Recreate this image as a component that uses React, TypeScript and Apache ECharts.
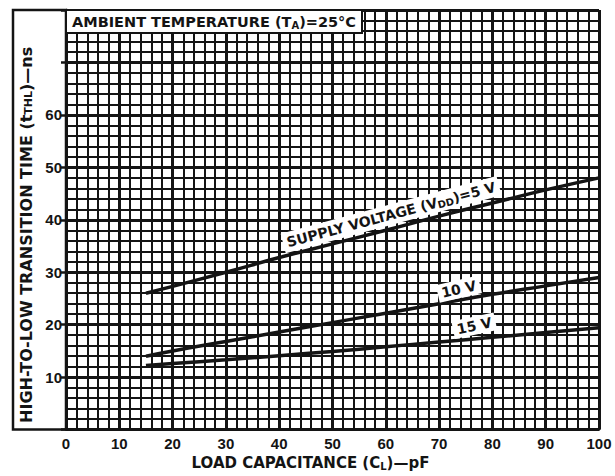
import React, { useEffect, useRef } from "react";
import * as echarts from "echarts";

const loadCapacitance = [15, 20, 30, 40, 50, 60, 70, 80, 90, 100];
const supply5V = [26, 27.3, 30, 32.8, 35.4, 38, 40.7, 43.2, 45.7, 48];
const supply10V = [14, 15, 16.8, 18.6, 20.4, 22.2, 24, 25.8, 27.4, 29];
const supply15V = [12.2, 12.6, 13.3, 14.1, 14.9, 15.8, 16.7, 17.6, 18.5, 19.4];
const yTickLabels = [10, 20, 30, 40, 50, 60];
const curveLabels = [
  { text: "SUPPLY VOLTAGE (V{sub|DD})=5 V", x: 61, y: 41, rot: 15 },
  { text: "10 V", x: 73.7, y: 26.8, rot: 13 },
  { text: "15 V", x: 76.6, y: 19.8, rot: 12 },
];

const INK = "#141414";
const FONT = "'Liberation Sans', 'DejaVu Sans', sans-serif";
const WIDE = "'DejaVu Sans', 'Liberation Sans', sans-serif";

export default function App() {
  const ref = useRef<HTMLDivElement>(null);
  useEffect(() => {
    document.body.style.margin = "0";
    const chart = echarts.init(ref.current!, null, { renderer: "svg" });
    const mk = (name: string, data: number[]) => ({
      name,
      type: "line",
      data: loadCapacitance.map((x, i) => [x, data[i]]),
      showSymbol: false,
      smooth: true,
      lineStyle: { color: INK, width: 3.5 },
      z: 5,
    });
    const axisCommon = {
      type: "value",
      interval: 10,
      min: 0,
      axisLine: { show: true, lineStyle: { color: INK, width: 2.5 } },
      minorTick: { show: false, splitNumber: 5 },
      splitLine: { show: true, lineStyle: { color: INK, width: 3 } },
      minorSplitLine: { show: true, lineStyle: { color: INK, width: 2 } },
    };
    chart.setOption({
      animation: false,
      backgroundColor: "#fff",
      grid: { left: 66, right: 16, top: 10, bottom: 37 },
      xAxis: {
        ...axisCommon,
        max: 100,
        axisTick: { show: false },
        axisLabel: {
          color: INK,
          fontFamily: FONT,
          fontWeight: "bold",
          fontSize: 15,
          margin: 6,
        },
        name: "LOAD CAPACITANCE (C{sub|L})—pF",
        nameLocation: "middle",
        nameGap: 21,
        nameTextStyle: {
          color: INK,
          fontFamily: WIDE,
          fontWeight: "bold",
          fontSize: 15,
          padding: [0, 44, 0, 0],
          rich: { sub: { fontSize: 10, fontWeight: "bold", fontFamily: WIDE, padding: [6, 0, 0, 0] } },
        },
      },
      yAxis: {
        ...axisCommon,
        max: 80,
        axisTick: { show: true, length: 5, lineStyle: { color: INK, width: 2.5 } },
        axisLabel: {
          color: INK,
          fontFamily: FONT,
          fontWeight: "bold",
          fontSize: 15,
          margin: 4,
          formatter: (v: number) => (yTickLabels.includes(v) ? String(v) : ""),
        },
        name: "HIGH-TO-LOW TRANSITION TIME (t{sub|THL})—ns",
        nameLocation: "middle",
        nameRotate: 90,
        nameGap: 29,
        nameTextStyle: {
          color: INK,
          fontFamily: WIDE,
          fontWeight: "bold",
          fontSize: 16,
          padding: [0, 30, 0, 0],
          rich: { sub: { fontSize: 11, fontWeight: "bold", fontFamily: WIDE, padding: [4, 0, 0, 0] } },
        },
      },
      series: [mk("5 V", supply5V), mk("10 V", supply10V), mk("15 V", supply15V)],
    });

    const labelGraphics = curveLabels.map((c) => {
      const [px, py] = chart.convertToPixel({ gridIndex: 0 }, [c.x, c.y]) as number[];
      return {
        type: "text",
        x: px,
        y: py,
        rotation: (c.rot * Math.PI) / 180,
        z: 20,
        style: {
          text: c.text,
          fill: INK,
          font: `bold 14px ${WIDE}`,
          align: "center",
          verticalAlign: "middle",
          backgroundColor: "#fff",
          padding: [2, 4, 2, 4],
          rich: { sub: { fontSize: 10, fontWeight: "bold", fontFamily: WIDE, padding: [6, 0, 0, 0] } },
        },
      };
    });
    const [left, top] = chart.convertToPixel({ gridIndex: 0 }, [0, 80]) as number[];
    const [, bottom] = chart.convertToPixel({ gridIndex: 0 }, [0, 0]) as number[];
    chart.setOption({
      graphic: [
        {
          type: "rect",
          z: 20,
          shape: { x: 13, y: top, width: left - 13, height: bottom - top },
          style: { fill: "none", stroke: INK, lineWidth: 2.5 },
        },
        {
          type: "rect",
          z: 20,
          shape: { x: left, y: top, width: 296, height: 23 },
          style: { fill: "#fff", stroke: INK, lineWidth: 2 },
        },
        {
          type: "text",
          z: 21,
          x: left + 6,
          y: top + 12,
          style: {
            text: "AMBIENT TEMPERATURE (T{sub|A})=25°C",
            fill: INK,
            font: `bold 14.5px ${WIDE}`,
            verticalAlign: "middle",
            rich: { sub: { fontSize: 10, fontWeight: "bold", fontFamily: WIDE, padding: [7, 0, 0, 0] } },
          },
        },
        ...labelGraphics,
      ],
    });
    return () => chart.dispose();
  }, []);
  return <div ref={ref} style={{ width: 615, height: 476 }} />;
}
